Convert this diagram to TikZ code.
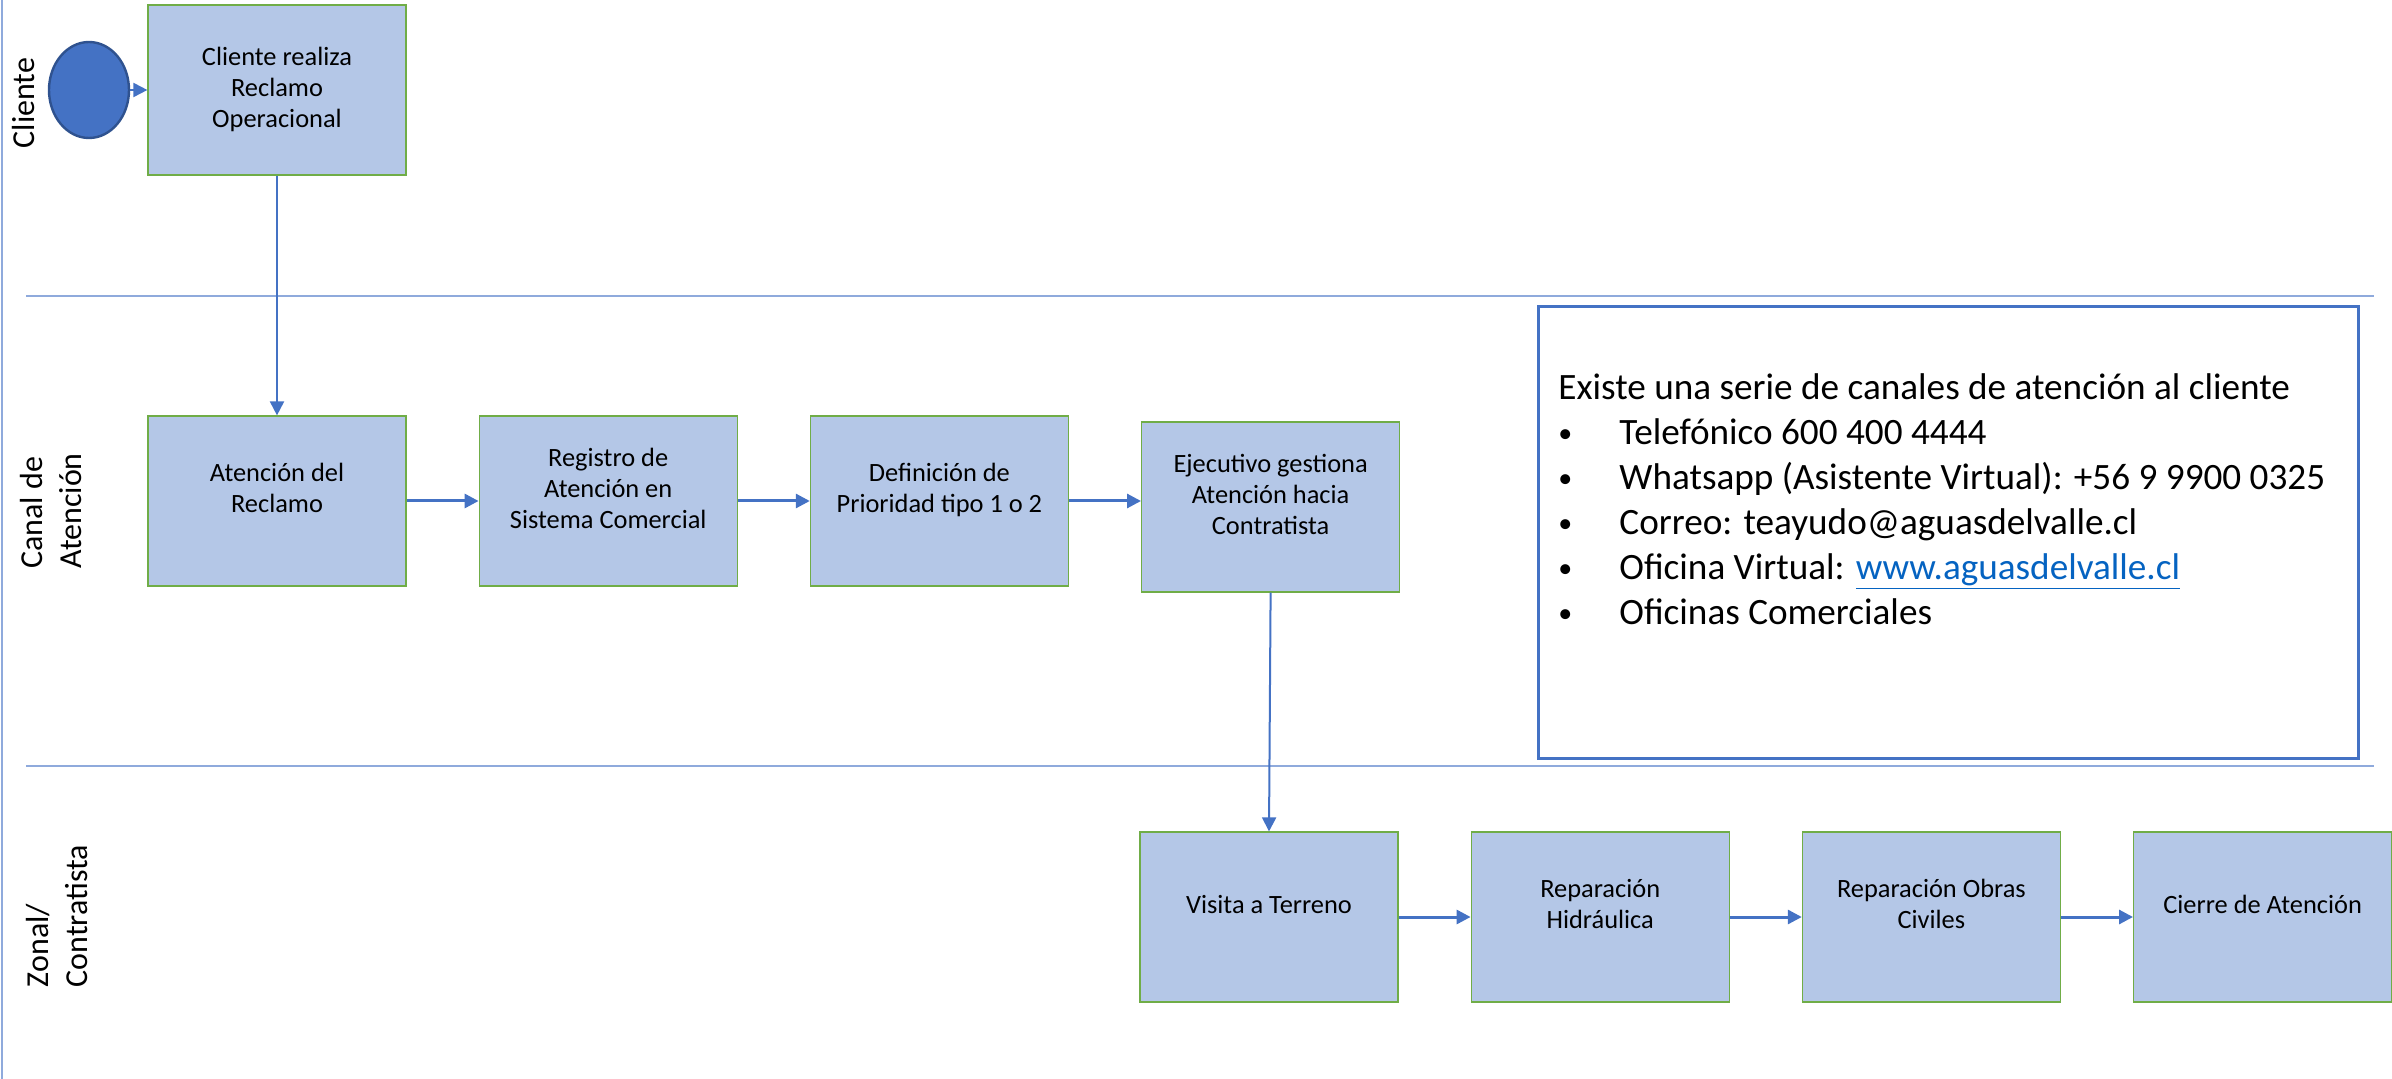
\documentclass[tikz,border=0pt]{standalone}
\usepackage{fontspec}
\setmainfont{Carlito}
\usetikzlibrary{positioning,arrows.meta,shapes.geometric}
\definecolor{boxfill}{HTML}{B4C7E7}
\definecolor{boxline}{HTML}{70AD47}
\definecolor{flowblue}{HTML}{4472C4}
\definecolor{laneblue}{HTML}{8FAADC}
\definecolor{startline}{HTML}{2F528F}
\definecolor{linkblue}{HTML}{0563C1}
\newcommand{\canalitem}{\makebox[30.5pt][l]{\raisebox{1pt}{\fontsize{14}{14}\selectfont\textbullet}}}

\begin{document}
\begin{tikzpicture}[x=0.5pt, y=-0.5pt,
		proc/.style={rectangle, draw=boxline, line width=0.6pt, fill=boxfill, minimum width=129pt, minimum height=85pt, align=center, font=\fontsize{13.2}{15.5}\selectfont, text depth=13pt},
		lane/.style={draw=laneblue, line width=1pt},
		lanelabel/.style={rotate=90, align=left, font=\fontsize{16}{19.5}\selectfont},
		flow/.style={draw=flowblue, line width=1.5pt, -{Triangle[length=7pt,width=7pt]}},
		thinflow/.style={flow, line width=1pt},
		node distance=36pt
		]
	\useasboundingbox (0,0) rectangle (2392,1079);
	\draw[lane] (2,0) -- (2,1079);
	\draw[lane] (26,296) -- (2374,296);
	\draw[lane] (26,766) -- (2374,766);

	\node [lanelabel] (lcliente) at (24,103) {Cliente};
	\node [lanelabel] (lcanal) at (51,511) {Canal de\\Atención};
	\node [lanelabel] (lzonal) at (57,916) {Zonal/\\Contratista};

	\node [ellipse, draw=startline, line width=1.2pt, fill=flowblue, minimum width=40pt, minimum height=48pt, inner sep=0pt] (inicio) at (89,90) {};
	\node [proc, text depth=3pt] (cliente) at (277,90) {Cliente realiza\\Reclamo\\Operacional};

	\node [proc] (atencion) at (277,501) {Atención del\\Reclamo};
	\node [proc, right=of atencion] (registro) {Registro de\\Atención en\\Sistema Comercial};
	\node [proc, right=of registro] (definicion) {Definición de\\Prioridad tipo 1 o 2};
	\node [proc, right=of definicion, yshift=-3pt] (ejecutivo) {Ejecutivo gestiona\\Atención hacia\\Contratista};

	\node [proc] (visita) at (1269,917) {Visita a Terreno};
	\node [proc, right=of visita] (hidraulica) {Reparación\\Hidráulica};
	\node [proc, right=of hidraulica] (obras) {Reparación Obras\\Civiles};
	\node [proc, right=of obras] (cierre) {Cierre de Atención};

	\node [draw=flowblue, line width=1.5pt, minimum width=410pt, minimum height=226pt, anchor=north west, inner sep=0pt] (canales) at (1537,305) {};
	\node [anchor=north west, align=left, inner sep=0pt, font=\fontsize{18.6}{22.5}\selectfont] (lista) at (1558,373) {Existe una serie de canales de atención al cliente\\
		\canalitem Telefónico 600 400 4444\\
		\canalitem Whatsapp (Asistente Virtual): +56 9 9900 0325\\
		\canalitem Correo: teayudo@aguasdelvalle.cl\\
		\canalitem Oficina Virtual: \textcolor{linkblue}{\underline{www.aguasdelvalle.cl}}\\
		\canalitem Oficinas Comerciales};

	\draw[thinflow] (inicio.east) -- (cliente.west);
	\draw[thinflow] (cliente.south) -- (atencion.north);
	\draw[flow] (atencion.east) -- (registro.west);
	\draw[flow] (registro.east) -- (definicion.west);
	\draw[flow] (definicion.east) -- (definicion.east -| ejecutivo.west);
	\draw[thinflow] (ejecutivo.south) -- (visita.north);
	\draw[flow] (visita.east) -- (hidraulica.west);
	\draw[flow] (hidraulica.east) -- (obras.west);
	\draw[flow] (obras.east) -- (cierre.west);
\end{tikzpicture}
\end{document}
